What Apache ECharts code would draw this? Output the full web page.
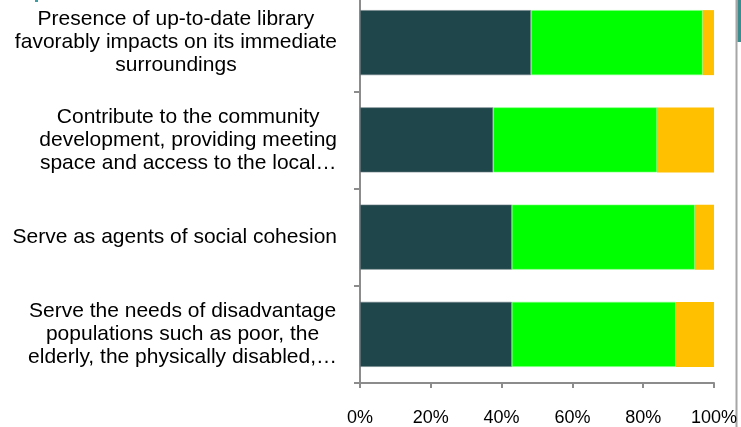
<!DOCTYPE html>
<html>
<head>
<meta charset="utf-8">
<script src="https://cdn.jsdelivr.net/npm/echarts@6/dist/echarts.min.js"></script>
<style>
  html, body { margin: 0; padding: 0; background: #fff; overflow: hidden; }
  /* the slide crops the top of the plot area a little */
  #chart { width: 741px; height: 433px; position: relative; top: -6px; }
</style>
</head>
<body>
<div id="chart"></div>
<script>
// categories, top to bottom (line breaks as shown on the slide)
const categories = [
  'Presence of up-to-date library\nfavorably impacts on its immediate\nsurroundings',
  'Contribute to the community\ndevelopment, providing meeting\nspace and access to the local…',
  'Serve as agents of social cohesion',
  'Serve the needs of disadvantage\npopulations such as poor, the\nelderly, the physically disabled,…'
];

// shares in percent
const series1 = [48.3, 37.6, 42.9, 42.9];
const series2 = [48.5, 46.3, 51.7, 46.3];
const series3 = [3.2, 16.1, 5.4, 10.8];

const xTicks = [0, 20, 40, 60, 80, 100];

const chart = echarts.init(document.getElementById('chart'));

const axisGray = '#8c8c8c';

const option = {
  backgroundColor: '#ffffff',
  animation: false,
  grid: {
    left: 360,
    right: 27,
    top: 0,
    bottom: 44
  },
  xAxis: {
    type: 'value',
    min: xTicks[0],
    max: xTicks[xTicks.length - 1],
    interval: 20,
    splitLine: { show: false },
    axisLine: { show: true, lineStyle: { color: axisGray, width: 2 } },
    axisTick: { show: true, length: 5, lineStyle: { color: axisGray, width: 2 } },
    axisLabel: {
      margin: 26,
      fontFamily: 'Liberation Sans',
      fontSize: 18,
      color: '#000',
      formatter: '{value}%'
    }
  },
  yAxis: {
    type: 'category',
    inverse: true,
    data: categories,
    axisLine: { show: true, lineStyle: { color: axisGray, width: 2 } },
    axisTick: { show: true, length: 6, lineStyle: { color: axisGray, width: 2 } },
    axisLabel: {
      interval: 0,
      margin: 23,
      align: 'right',
      formatter: function (v) {
        return v.split('\n').map(function (l) { return '{c|' + l + '}'; }).join('\n');
      },
      rich: {
        c: {
          align: 'center',
          fontFamily: 'Liberation Sans',
          fontSize: 21,
          lineHeight: 23,
          color: '#000'
        }
      }
    }
  },
  series: [
    {
      name: 'Series 1',
      type: 'bar',
      stack: 'total',
      barWidth: 65,
      data: series1,
      itemStyle: { color: '#1f464b', borderColor: '#6f7f84', borderWidth: 0.6 }
    },
    {
      name: 'Series 2',
      type: 'bar',
      stack: 'total',
      barWidth: 65,
      data: series2,
      itemStyle: { color: '#00ff00', borderColor: '#7dff7d', borderWidth: 0.6 }
    },
    {
      name: 'Series 3',
      type: 'bar',
      stack: 'total',
      barWidth: 65,
      data: series3,
      itemStyle: { color: '#ffc000' }
    }
  ],
  graphic: [
    { type: 'rect', shape: { x: 735.5, y: 6, width: 2, height: 427 }, style: { fill: '#a6a6a6' } },
    { type: 'rect', shape: { x: 737.5, y: 6, width: 4, height: 42 }, style: { fill: '#3b8c8e' } },
    { type: 'rect', shape: { x: 35, y: 6, width: 3, height: 2 }, style: { fill: '#3b9ea5' } }
  ]
};

chart.setOption(option);
window.addEventListener('resize', function () { chart.resize(); });
</script>
</body>
</html>
